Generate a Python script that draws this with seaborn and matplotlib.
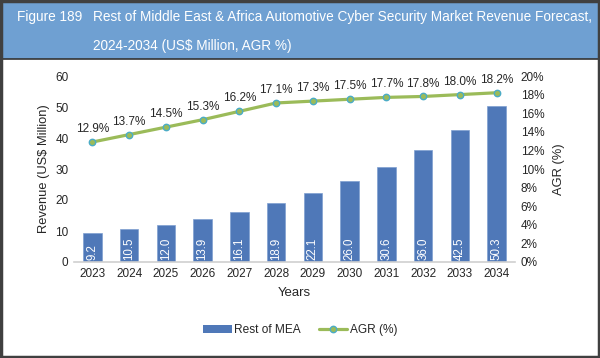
### Rest of MEA Automotive Cyber Security revenue forecast ###

import matplotlib
matplotlib.use("Agg")
import matplotlib.pyplot as plt
from matplotlib.lines import Line2D
from matplotlib.patches import Patch, Rectangle
import numpy as np
import pandas as pd
import seaborn as sns

# data
years = ["2023", "2024", "2025", "2026", "2027", "2028",
         "2029", "2030", "2031", "2032", "2033", "2034"]
revenue = [9.2, 10.5, 12.0, 13.9, 16.1, 18.9, 22.1, 26.0, 30.6, 36.0, 42.5, 50.3]
agr = [12.9, 13.7, 14.5, 15.3, 16.2, 17.1, 17.3, 17.5, 17.7, 17.8, 18.0, 18.2]

BAR = "#4F78B8"
LINE = "#9BBB59"
MEDGE = "#4BACC6"
HEADER = "#6FA0D2"

sns.set_style("white")
plt.rcParams["font.family"] = ["Liberation Sans", "DejaVu Sans"]

frame = pd.DataFrame({"year": years, "revenue": revenue, "agr": agr})

fig = plt.figure(figsize=(6, 3.58), dpi=100)

# header band + frame
fig.patches.append(Rectangle((0, 1 - 59 / 358), 1, 59 / 358, transform=fig.transFigure,
                             facecolor=HEADER, edgecolor="none", zorder=0))
fig.add_artist(Line2D([0, 1], [1 - 59 / 358] * 2, color="#333333", lw=1.2,
                      transform=fig.transFigure))
fig.patches.append(Rectangle((0.002, 0.003), 0.996, 0.995, transform=fig.transFigure,
                             facecolor="none", edgecolor="#404040", lw=2.5, zorder=5))
fig.text(17 / 600, 1 - 17 / 358, "Figure 189", color="white", fontsize=9.8, va="center")
fig.text(93 / 600, 1 - 17 / 358,
         "Rest of Middle East & Africa Automotive Cyber Security Market Revenue Forecast,",
         color="white", fontsize=9.8, va="center")
fig.text(93 / 600, 1 - 46 / 358, "2024-2034 (US$ Million, AGR %)",
         color="white", fontsize=9.8, va="center")

ax = fig.add_axes([74 / 600, 96 / 358, 441 / 600, 186 / 358])
sns.barplot(data=frame, x="year", y="revenue", color=BAR, width=0.5,
            edgecolor="#7F9FD0", linewidth=0.5, saturation=1, ax=ax)
for i, v in enumerate(revenue):
    ax.text(i, 0.8, "{:.1f}".format(v), rotation=90, color="white", fontsize=8.3,
            ha="center", va="bottom")
ax.set_ylim(0, 60)
ax.set_yticks(np.arange(0, 61, 10))
ax.set_xlim(-0.5, len(years) - 0.5)
ax.set_ylabel("Revenue (US$ Million)", fontsize=9.3, labelpad=4)
ax.set_xlabel("Years", fontsize=9.5, labelpad=5)
ax.tick_params(axis="both", labelsize=8.5, length=0, pad=4)
for s in ["top", "right", "left"]:
    ax.spines[s].set_visible(False)
ax.spines["bottom"].set_color("#D0D0D0")
ax.spines["bottom"].set_linewidth(1.2)

ax2 = ax.twinx()
ax2.plot(range(len(years)), agr, color=LINE, lw=2.3, marker="o", markersize=4.6,
         markerfacecolor=LINE, markeredgecolor=MEDGE, markeredgewidth=1)
for i, v in enumerate(agr):
    ax2.annotate("{:.1f}%".format(v), (i, v), xytext=(0, 5), textcoords="offset points",
                 ha="center", va="bottom", fontsize=8.5)
ax2.set_ylim(0, 20)
ax2.set_yticks(np.arange(0, 21, 2))
ax2.set_yticklabels(["{}%".format(t) for t in range(0, 21, 2)])
ax2.set_ylabel("AGR (%)", fontsize=9.3, labelpad=6)
ax2.tick_params(axis="y", labelsize=8.5, length=0, pad=4)
for s in ax2.spines.values():
    s.set_visible(False)

handles = [Patch(facecolor=BAR, edgecolor="none"),
           Line2D([], [], color=LINE, lw=2.3, marker="o", markersize=4.6,
                  markerfacecolor=LINE, markeredgecolor=MEDGE)]
fig.legend(handles, ["Rest of MEA", "AGR (%)"], loc="center", bbox_to_anchor=(0.5, 1 - 330 / 358),
           ncol=2, frameon=False, fontsize=8.6, handlelength=2.4, columnspacing=1.5,
           handletextpad=0.2)

plt.savefig("out.png", dpi=100)
